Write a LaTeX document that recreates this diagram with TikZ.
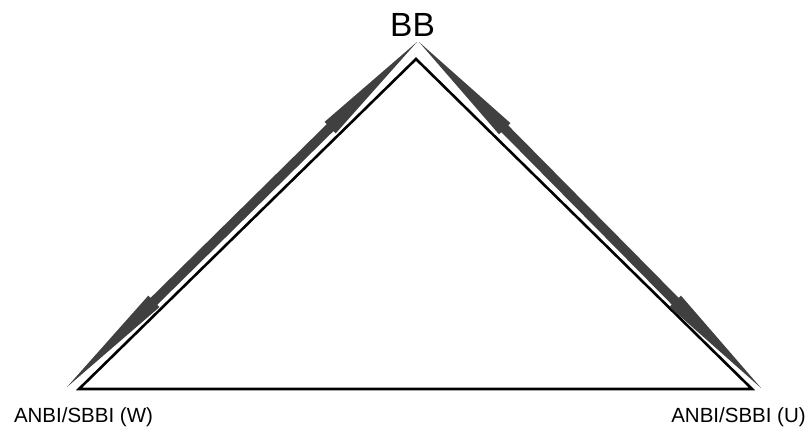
\documentclass[tikz,border=0pt]{standalone}
\usepackage{fontspec}
\setmainfont{Liberation Sans}
\usetikzlibrary{calc}
\definecolor{arrowgray}{HTML}{404040}
\tikzset{
  side/.style={draw=black, line width=2.6pt, line join=miter},
  lbl/.style={anchor=base, inner sep=0pt, font=\fontsize{20.5}{24}\selectfont},
  toplbl/.style={anchor=base, inner sep=0pt, font=\fontsize{33.5}{40}\selectfont},
  arrowfill/.style={fill=arrowgray}
}
\newcommand{\dblarrow}[2]{%
  \fill[arrowfill]
    (#1)
    -- ($($(#1)!122pt!(#2)$)!8pt!90:(#2)$)
    -- ($($(#1)!122pt!(#2)$)!4.8pt!90:(#2)$)
    -- ($($(#2)!122pt!(#1)$)!4.8pt!-90:(#1)$)
    -- ($($(#2)!122pt!(#1)$)!8pt!-90:(#1)$)
    -- (#2)
    -- ($($(#2)!122pt!(#1)$)!8pt!90:(#1)$)
    -- ($($(#2)!122pt!(#1)$)!4.8pt!90:(#1)$)
    -- ($($(#1)!122pt!(#2)$)!4.8pt!-90:(#2)$)
    -- ($($(#1)!122pt!(#2)$)!8pt!-90:(#2)$)
    -- cycle;}
\begin{document}
\begin{tikzpicture}[x=1pt,y=-1pt]
\useasboundingbox (0,0) rectangle (809,427);
% triangle vertices
\coordinate (apex) at (416,59);
\coordinate (bl) at (79,389);
\coordinate (br) at (752,389);
% arrow end points
\coordinate (ltop) at (417,42);
\coordinate (lbot) at (67,387);
\coordinate (rtop) at (419,42);
\coordinate (rbot) at (761,388);
% triangle
\draw[side] (apex) -- (bl) -- (br) -- cycle;
% double arrows
\dblarrow{ltop}{lbot}
\dblarrow{rtop}{rbot}
% labels
\node[toplbl] (bb) at (412.5,37) {BB};
\node[lbl] (w) at (83.5,422.5) {ANBI/SBBI (W)};
\node[lbl] (u) at (738.5,422.5) {ANBI/SBBI (U)};
\end{tikzpicture}
\end{document}
